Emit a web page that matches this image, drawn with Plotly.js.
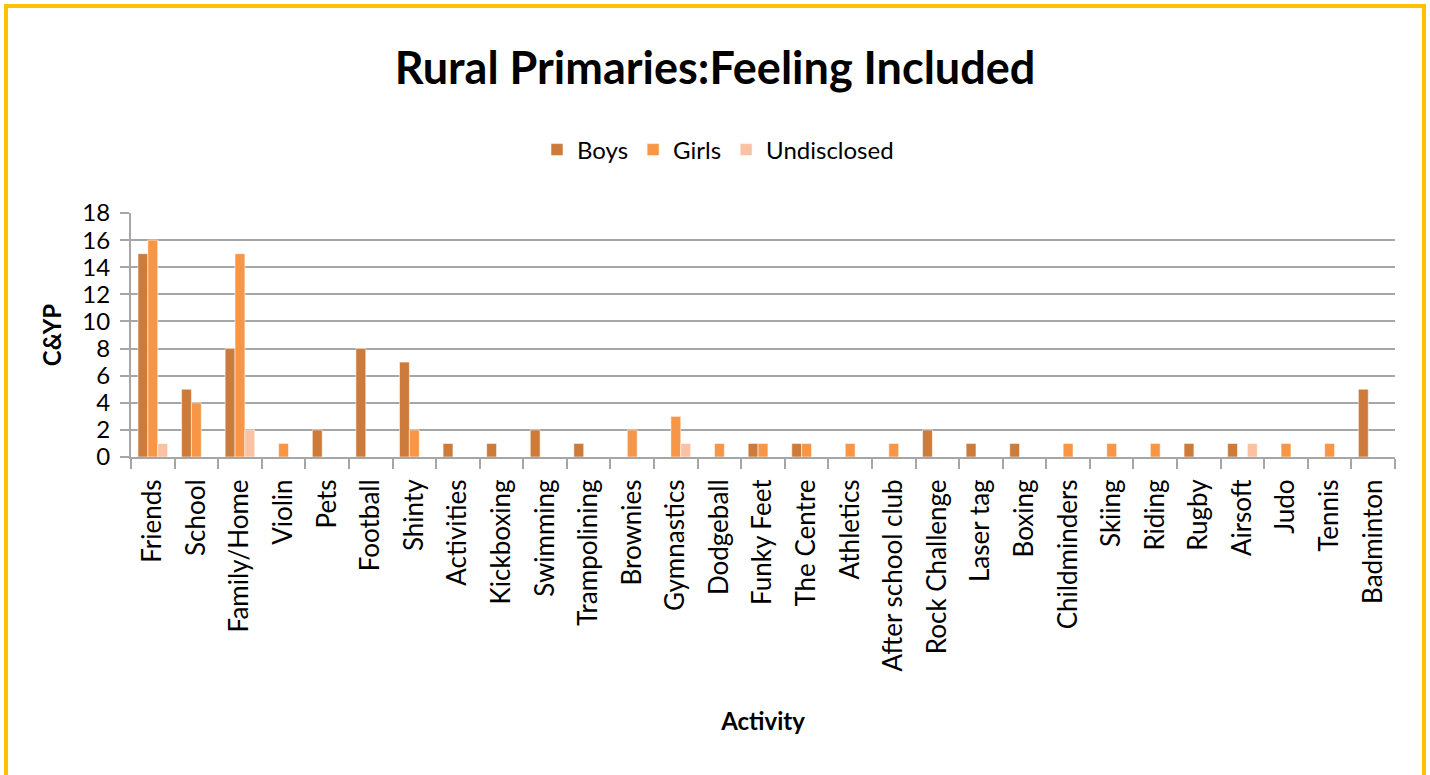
<!DOCTYPE html>
<html>
<head>
<meta charset="utf-8">
<script src="https://cdn.plot.ly/plotly-3.0.1.min.js"></script>
<style>
  html, body { margin: 0; padding: 0; background: #fff; }
  #chart { position: absolute; left: 0; top: 0; width: 1430px; height: 775px; }
  #frame { position: absolute; left: 4px; top: 4px; width: 1422px; height: 800px; box-sizing: border-box;
           border: 4px solid #FFC000; pointer-events: none; }
</style>
</head>
<body>
<div id="chart"></div>
<div id="frame"></div>
<script>
const categories = ["Friends","School","Family/Home","Violin","Pets","Football","Shinty","Activities","Kickboxing","Swimming","Trampolining","Brownies","Gymnastics","Dodgeball","Funky Feet","The Centre","Athletics","After school club","Rock Challenge","Laser tag","Boxing","Childminders","Skiing","Riding","Rugby","Airsoft","Judo","Tennis","Badminton"];
const boys        = [15,5,8,0,2,8,7,1,1,2,1,0,0,0,1,1,0,0,2,1,1,0,0,0,1,1,0,0,5];
const girls       = [16,4,15,1,0,0,2,0,0,0,0,2,3,1,1,1,1,1,0,0,0,1,1,1,0,0,1,1,0];
const undisclosed = [1,0,2,0,0,0,0,0,0,0,0,0,1,0,0,0,0,0,0,0,0,0,0,0,0,1,0,0,0];
const yTicks = [0,2,4,6,8,10,12,14,16,18];

const FONT = "Lato, 'Open Sans', sans-serif";
const outline = {color: "rgba(255,255,255,0.55)", width: 1};

const traces = [
  {type: "bar", name: "Boys", x: categories, y: boys, marker: {color: "#CD7B3B", line: outline}},
  {type: "bar", name: "Girls", x: categories, y: girls, marker: {color: "#F79646", line: outline}},
  {type: "bar", name: "Undisclosed", x: categories, y: undisclosed, marker: {color: "#FAC1A2", line: outline}}
];

const layout = {
  width: 1430, height: 775,
  paper_bgcolor: "#fff", plot_bgcolor: "#fff",
  margin: {l: 131, r: 35, t: 213, b: 318},
  barmode: "group", bargap: 0.32, bargroupgap: 0,
  font: {family: FONT, color: "#000"},
  title: {text: "<b>Rural Primaries:Feeling Included</b>", font: {family: FONT, size: 45, color: "#000"},
          x: 0.5, xref: "container", xanchor: "center", y: 1 - 68/775, yref: "container", yanchor: "middle"},
  showlegend: true,
  legend: {orientation: "h", xref: "container", yref: "container", x: 718/1430, xanchor: "center",
           y: 1 - 150/775, yanchor: "middle", font: {family: FONT, size: 24, color: "#000"},
           itemwidth: 30, traceorder: "normal"},
  xaxis: {
    type: "category", tickangle: -90, tickfont: {family: FONT, size: 26, color: "#000"},
    ticks: "outside", tickson: "boundaries", ticklen: 10, tickcolor: "#A6A6A6", tickwidth: 2,
    showline: true, linecolor: "#A6A6A6", linewidth: 2, showgrid: false,
    ticklabelstandoff: 10,
    title: {text: "<b>Activity</b>", font: {family: FONT, size: 24, color: "#000"}, standoff: 43}
  },
  yaxis: {
    range: [0, 18], tickvals: yTicks, ticktext: yTicks.map(String),
    tickfont: {family: FONT, size: 24, color: "#000"},
    ticks: "outside", ticklen: 9, tickcolor: "#A6A6A6", tickwidth: 2,
    showline: true, linecolor: "#A6A6A6", linewidth: 2,
    showgrid: true, gridcolor: "#A6A6A6", gridwidth: 2, zeroline: false,
    ticklabelstandoff: 5,
    title: {text: "<b>C&YP</b>", font: {family: FONT, size: 24, color: "#000"}, standoff: 14}
  }
};

Plotly.newPlot("chart", traces, layout, {displayModeBar: false, staticPlot: true});
</script>
</body>
</html>
